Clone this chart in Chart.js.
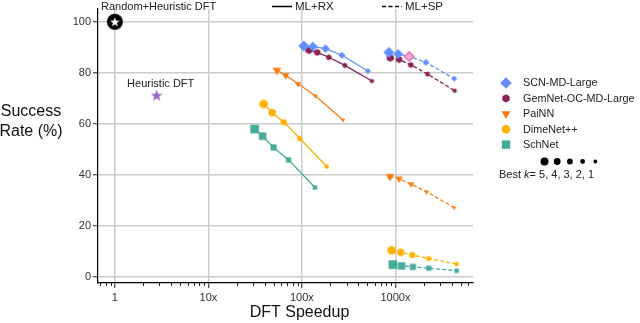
<!DOCTYPE html>
<html><head><meta charset="utf-8">
<script src="https://cdn.jsdelivr.net/npm/chart.js@4/dist/chart.umd.min.js"></script>
<style>html,body{margin:0;padding:0;background:#fff}#wrap{width:640px;height:323px}</style>
</head><body><div id="wrap"><canvas id="c" width="640" height="323"></canvas></div>
<script>
// ---- data ----
const models = ['SCN-MD-Large', 'GemNet-OC-MD-Large', 'PaiNN', 'DimeNet++', 'SchNet'];
const bestK = [5, 4, 3, 2, 1];

const scnRxSpeedup = [105, 131, 179, 268, 508];
const scnRxSuccess = [90.5, 90.3, 89.5, 86.9, 80.7];
const gemRxSpeedup = [119, 146, 194, 288, 561];
const gemRxSuccess = [88.9, 88.0, 86.1, 82.9, 76.8];
const painnRxSpeedup = [54, 67, 91, 139, 275];
const painnRxSuccess = [81.0, 79.0, 75.7, 71.0, 61.5];
const dimeRxSpeedup = [38.9, 48, 64, 95, 184];
const dimeRxSuccess = [67.8, 64.4, 60.7, 54.3, 43.3];
const schRxSpeedup = [31.2, 38, 49.8, 72, 138];
const schRxSuccess = [58.0, 55.2, 50.8, 45.9, 35.1];

const scnSpSpeedup = [852, 1071, 1406, 2120, 4256];
const scnSpSuccess = [88.0, 87.4, 86.4, 84.1, 77.7];
const gemSpSpeedup = [879, 1097, 1464, 2208, 4300];
const gemSpSuccess = [85.9, 85.2, 83.1, 79.5, 73.0];
const painnSpSpeedup = [873, 1096, 1472, 2157, 4256];
const painnSpSuccess = [39.4, 38.5, 36.4, 33.4, 27.2];
const dimeSpSpeedup = [911, 1137, 1514, 2265, 4519];
const dimeSpSuccess = [10.5, 9.7, 8.7, 7.3, 5.1];
const schSpSpeedup = [940, 1164, 1538, 2280, 4519];
const schSpSuccess = [4.9, 4.4, 4.0, 3.5, 2.5];

const randomHeuristic = {speedup: 1, success: 100};
const heuristic = {speedup: 2.8, success: 71};

const xTickValues = [1, 10, 100, 1000];
const xTickLabels = ['1', '10x', '100x', '1000x'];
const yTickValues = [0, 20, 40, 60, 80, 100];
const xMinorTicks = [0.7,0.8,0.9,2,3,4,5,6,7,8,9,20,30,40,50,60,70,80,90,200,300,400,500,600,700,800,900,2000,3000,4000,5000,6000];

// ---- styles ----
const FONT = "'Liberation Sans', Arial, sans-serif";
const colors = ['#648FFF', '#882255', '#FA7D14', '#FFB000', '#44AA99'];
const shapes = ['diamond', 'hex', 'tri', 'circle', 'square'];
const sizes = [
  [5.6, 4.9, 4.2, 3.6, 3.0],
  [4.1, 3.6, 3.1, 2.7, 2.3],
  [5.0, 4.3, 3.7, 3.1, 2.6],
  [4.3, 3.7, 3.1, 2.6, 2.2],
  [4.3, 3.7, 3.1, 2.6, 2.2]
];

function drawShape(g, kind, x, y, r, fill, stroke, lw) {
  g.beginPath();
  if (kind === 'circle') {
    g.arc(x, y, r, 0, Math.PI * 2);
  } else if (kind === 'hex') {
    for (let i = 0; i < 6; i++) {
      const a = -Math.PI / 2 + i * Math.PI / 3;
      const px = x + r * Math.cos(a), py = y + r * Math.sin(a);
      i ? g.lineTo(px, py) : g.moveTo(px, py);
    }
    g.closePath();
  } else if (kind === 'diamond') {
    g.moveTo(x, y - r); g.lineTo(x + r, y); g.lineTo(x, y + r); g.lineTo(x - r, y); g.closePath();
  } else if (kind === 'square') {
    g.rect(x - r, y - r, 2 * r, 2 * r);
  } else if (kind === 'tri') {
    g.moveTo(x, y + r); g.lineTo(x - r * 0.866, y - r / 2); g.lineTo(x + r * 0.866, y - r / 2); g.closePath();
  } else if (kind === 'star') {
    for (let i = 0; i < 10; i++) {
      const a = -Math.PI / 2 + i * Math.PI / 5;
      const rr = i % 2 ? r * 0.42 : r;
      const px = x + rr * Math.cos(a), py = y + rr * Math.sin(a);
      i ? g.lineTo(px, py) : g.moveTo(px, py);
    }
    g.closePath();
  }
  if (fill) { g.fillStyle = fill; g.fill(); }
  if (stroke) { g.strokeStyle = stroke; g.lineWidth = lw || 1; g.stroke(); }
}
function shapeCanvas(kind, r, fill, stroke, lw) {
  const s = Math.ceil(2 * r + 4);
  const c = document.createElement('canvas');
  c.width = s; c.height = s;
  drawShape(c.getContext('2d'), kind, s / 2, s / 2, r, fill, stroke, lw);
  return c;
}
function randomMarker() {
  const s = 20, c = document.createElement('canvas');
  c.width = s; c.height = s;
  const g = c.getContext('2d');
  drawShape(g, 'circle', s / 2, s / 2, 8, '#000');
  drawShape(g, 'star', s / 2, s / 2 + 0.4, 5, '#fff');
  return c;
}

const rxSeries = [
  [scnRxSpeedup, scnRxSuccess], [gemRxSpeedup, gemRxSuccess], [painnRxSpeedup, painnRxSuccess],
  [dimeRxSpeedup, dimeRxSuccess], [schRxSpeedup, schRxSuccess]
];
const spSeries = [
  [scnSpSpeedup, scnSpSuccess], [gemSpSpeedup, gemSpSuccess], [painnSpSpeedup, painnSpSuccess],
  [dimeSpSpeedup, dimeSpSuccess], [schSpSpeedup, schSpSuccess]
];

const datasets = [];
models.forEach((m, i) => {
  [[rxSeries[i], []], [spSeries[i], [4, 2.2]]].forEach(([ser, dash], j) => {
    const styles = sizes[i].map((r, k) => {
      if (i === 0 && j === 1 && k === 2) return shapeCanvas('diamond', r + 0.3, '#F7B0D8', '#EE6DB6', 1.6);
      return shapeCanvas(shapes[i], r, colors[i]);
    });
    datasets.push({
      label: m + (j ? ' SP' : ' RX'),
      data: ser[0].map((x, k) => ({x: x, y: ser[1][k]})),
      showLine: true,
      borderColor: colors[i],
      borderWidth: 1.3,
      borderDash: dash,
      pointStyle: styles,
      pointRadius: 5,
      order: i
    });
  });
});
datasets.push({
  label: 'Random+Heuristic DFT',
  data: [{x: randomHeuristic.speedup, y: randomHeuristic.success}],
  pointStyle: randomMarker(), pointRadius: 8, showLine: false
});
datasets.push({
  label: 'Heuristic DFT',
  data: [{x: heuristic.speedup, y: heuristic.success}],
  pointStyle: shapeCanvas('star', 6.2, '#9A68C8'), pointRadius: 6, showLine: false
});

const extras = {
  id: 'extras',
  afterDraw(chart) {
    const g = chart.ctx, xs = chart.scales.x, ys = chart.scales.y;
    g.save();
    // minor ticks
    g.strokeStyle = '#222'; g.lineWidth = 1;
    xMinorTicks.forEach(v => {
      const px = Math.round(xs.getPixelForValue(v)) + 0.5;
      g.beginPath(); g.moveTo(px, xs.top); g.lineTo(px, xs.top + 3); g.stroke();
    });
    // axis titles
    g.fillStyle = '#111';
    g.textAlign = 'center'; g.textBaseline = 'middle';
    g.font = '16px ' + FONT;
    g.fillText('Success', 31, 112);
    g.fillText('Rate (%)', 31, 132);
    g.fillText('DFT Speedup', (chart.chartArea.left + chart.chartArea.right) / 2 + 14, 313);
    // annotations
    g.font = '11px ' + FONT; g.fillStyle = '#222';
    g.textAlign = 'left';
    g.fillText('Random+Heuristic DFT', 101, 7);
    g.textAlign = 'center';
    g.fillText('Heuristic DFT', xs.getPixelForValue(heuristic.speedup) + 4, ys.getPixelForValue(heuristic.success) - 12);
    // line style legend
    g.strokeStyle = '#000'; g.lineWidth = 1.5;
    g.beginPath(); g.moveTo(272, 6.5); g.lineTo(292, 6.5); g.stroke();
    g.setLineDash([4, 2.5]);
    g.beginPath(); g.moveTo(382, 6.5); g.lineTo(402, 6.5); g.stroke();
    g.setLineDash([]);
    g.textAlign = 'left'; g.font = '11.5px ' + FONT;
    g.fillText('ML+RX', 295, 7);
    g.fillText('ML+SP', 405, 7);
    // model legend
    const legSizes = [5.8, 4.2, 5.2, 4.3, 4.2];
    g.font = '10.8px ' + FONT;
    models.forEach((m, i) => {
      const y = 83 + i * 15.4;
      drawShape(g, shapes[i], 506, y, legSizes[i], colors[i]);
      g.fillStyle = '#222';
      g.fillText(m, 523, y + 0.5);
    });
    // size legend
    const dotR = [4.0, 3.4, 2.9, 2.4, 1.9];
    dotR.forEach((r, k) => drawShape(g, 'circle', 544.5 + k * 12.7, 161.5, r, '#000'));
    g.fillStyle = '#222';
    let x = 499; const y = 174.5;
    g.font = '11px ' + FONT;
    g.fillText('Best ', x, y); x += g.measureText('Best ').width;
    g.font = 'italic 11px ' + FONT;
    g.fillText('k', x, y); x += g.measureText('k').width;
    g.font = '11px ' + FONT;
    g.fillText('= ' + bestK.join(', '), x, y);
    g.restore();
  }
};

new Chart(document.getElementById('c'), {
  type: 'scatter',
  data: {datasets},
  plugins: [extras],
  options: {
    responsive: false, animation: false, devicePixelRatio: 1,
    layout: {padding: {top: 8, right: 167, left: 0, bottom: 0}},
    plugins: {legend: {display: false}, tooltip: {enabled: false}},
    scales: {
      x: {
        type: 'logarithmic', min: 0.66, max: 6760,
        afterBuildTicks: s => { s.ticks = xTickValues.map(v => ({value: v})); },
        afterFit: s => { s.height = 40; },
        ticks: {callback: (v, i) => xTickLabels[i], color: '#333', font: {size: 11, family: FONT}, padding: 3, autoSkip: false, maxRotation: 0},
        grid: {color: '#cccccc', lineWidth: 1.5, tickLength: 5, tickColor: '#222', tickWidth: 1},
        border: {color: '#000', width: 1.2}
      },
      y: {
        min: -2.3, max: 105,
        afterBuildTicks: s => { s.ticks = yTickValues.map(v => ({value: v})); },
        afterFit: s => { s.width = 98; },
        ticks: {color: '#333', font: {size: 11, family: FONT}, padding: 2},
        grid: {color: '#cccccc', lineWidth: 1.5, tickLength: 5, tickColor: '#222', tickWidth: 1},
        border: {color: '#000', width: 1.2}
      }
    }
  }
});
</script>
</body></html>
